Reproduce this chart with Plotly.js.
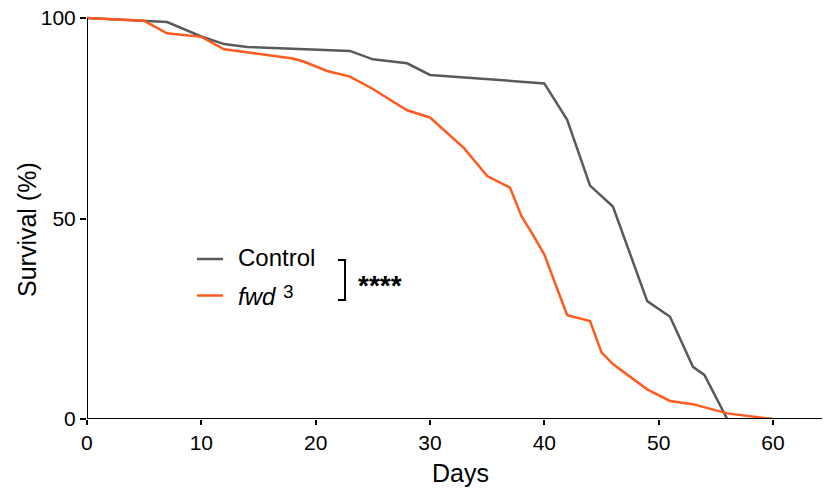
<!DOCTYPE html>
<html>
<head>
<meta charset="utf-8">
<script src="https://cdn.plot.ly/plotly-3.0.1.min.js"></script>
<style>html,body{margin:0;padding:0;background:#fff;}#chart{width:832px;height:497px;}</style>
</head>
<body>
<div id="chart"></div>
<script>
// Survival data
const daysControl = [0, 5, 7, 10, 12, 14, 23, 25, 28, 30, 40, 42, 44, 46, 49, 51, 53, 54, 56];
const survControl = [100, 99.3, 99.0, 95.4, 93.5, 92.8, 91.8, 89.7, 88.7, 85.8, 83.7, 74.6, 58.2, 53.0, 29.4, 25.5, 13.0, 11.0, 0];

const daysFwd = [0, 5, 7, 10, 12, 18, 19, 21, 23, 25, 28, 30, 33, 35, 37, 38, 39, 40, 42, 44, 45, 46, 49, 51, 53, 56, 60];
const survFwd = [100, 99.3, 96.2, 95.3, 92.2, 89.9, 89.1, 86.8, 85.4, 82.3, 77.0, 75.2, 67.5, 60.6, 57.7, 50.6, 46.0, 41.0, 25.9, 24.4, 16.6, 13.7, 7.4, 4.5, 3.7, 1.4, 0];

const xTickVals = [0, 10, 20, 30, 40, 50, 60];
const xTickText = ['', '10', '20', '30', '40', '50', '60'];
const yTickVals = [0, 50, 100];
const yTickText = ['0', '50', '100'];

const seriesNames = ['Control', 'fwd'];
const colors = ['#5a5a5a', '#ff5b1f'];
const FONT = 'Liberation Sans, Arial, Helvetica, sans-serif';

const traces = [
  {x: daysControl, y: survControl, name: seriesNames[0], type: 'scatter', mode: 'lines',
   line: {color: colors[0], width: 2.5}, showlegend: false, hoverinfo: 'x+y'},
  {x: daysFwd, y: survFwd, name: seriesNames[1], type: 'scatter', mode: 'lines',
   line: {color: colors[1], width: 2.5}, showlegend: false, hoverinfo: 'x+y'}
];

const layout = {
  width: 832, height: 497,
  margin: {l: 87, r: 10, t: 12, b: 78, pad: 0},
  paper_bgcolor: '#fff', plot_bgcolor: '#fff',
  font: {family: FONT, color: '#000', size: 21},
  xaxis: {
    range: [0, 64.29], showgrid: false, zeroline: false, showline: false,
    tickmode: 'array', tickvals: xTickVals, ticktext: xTickText,
    ticks: 'outside', ticklen: 5, tickwidth: 2, tickcolor: '#000',
    tickfont: {family: FONT, size: 21, color: '#000'},
    fixedrange: true
  },
  yaxis: {
    range: [0, 101.5], showgrid: false, zeroline: false, showline: false,
    tickmode: 'array', tickvals: yTickVals, ticktext: yTickText,
    ticks: 'outside', ticklen: 6, tickwidth: 2, tickcolor: '#000',
    tickfont: {family: FONT, size: 21, color: '#000'},
    fixedrange: true
  },
  shapes: [
    // axis lines
    {type: 'line', xref: 'x', yref: 'y', x0: 0, x1: 0, y0: 0, y1: 100, line: {color: '#000', width: 2}},
    {type: 'line', xref: 'paper', yref: 'y', x0: 0, x1: 1, y0: 0, y1: 0, line: {color: '#000', width: 2}},
    // legend samples
    {type: 'line', xref: 'x', yref: 'y', x0: 9.62, x1: 11.9, y0: 39.9, y1: 39.9, line: {color: colors[0], width: 2.5}},
    {type: 'line', xref: 'x', yref: 'y', x0: 9.62, x1: 11.9, y0: 30.8, y1: 30.8, line: {color: colors[1], width: 2.5}},
    // significance bracket
    {type: 'path', xref: 'x', yref: 'y', path: 'M 21.95 39.65 L 22.57 39.65 L 22.57 29.68 L 21.95 29.68',
     line: {color: '#000', width: 2}}
  ],
  annotations: [
    // axis titles
    {xref: 'paper', yref: 'paper', x: -0.0816, y: 0.4644, text: 'Survival (%)', textangle: -90, showarrow: false,
     xanchor: 'center', yanchor: 'middle', font: {family: FONT, size: 25, color: '#000'}},
    {xref: 'paper', yref: 'paper', x: 0.5075, y: -0.133, text: 'Days', showarrow: false,
     xanchor: 'center', yanchor: 'middle', font: {family: FONT, size: 25, color: '#000'}},
    // offset x-axis zero label
    {xref: 'x', yref: 'y', x: 0, y: 0, text: '0', showarrow: false, xanchor: 'center', yanchor: 'top',
     yshift: -10, font: {family: FONT, size: 21, color: '#000'}},
    // legend labels
    {xref: 'x', yref: 'y', x: 13.03, y: 40.2, text: 'Control', showarrow: false, xanchor: 'left', yanchor: 'middle',
     font: {family: FONT, size: 24, color: '#000'}},
    {xref: 'x', yref: 'y', x: 13.03, y: 30.6, text: '<i>fwd</i>', showarrow: false, xanchor: 'left', yanchor: 'middle',
     font: {family: FONT, size: 24, color: '#000'}},
    {xref: 'x', yref: 'y', x: 16.95, y: 31.8, text: '3', showarrow: false, xanchor: 'left', yanchor: 'middle',
     font: {family: FONT, size: 19, color: '#000'}},
    // significance
    {xref: 'x', yref: 'y', x: 23.5, y: 33.4, text: '<b>****</b>', showarrow: false, xanchor: 'left', yanchor: 'middle',
     font: {family: FONT, size: 28, color: '#000'}}
  ]
};

Plotly.newPlot('chart', traces, layout, {displayModeBar: false, staticPlot: true});
</script>
</body>
</html>
